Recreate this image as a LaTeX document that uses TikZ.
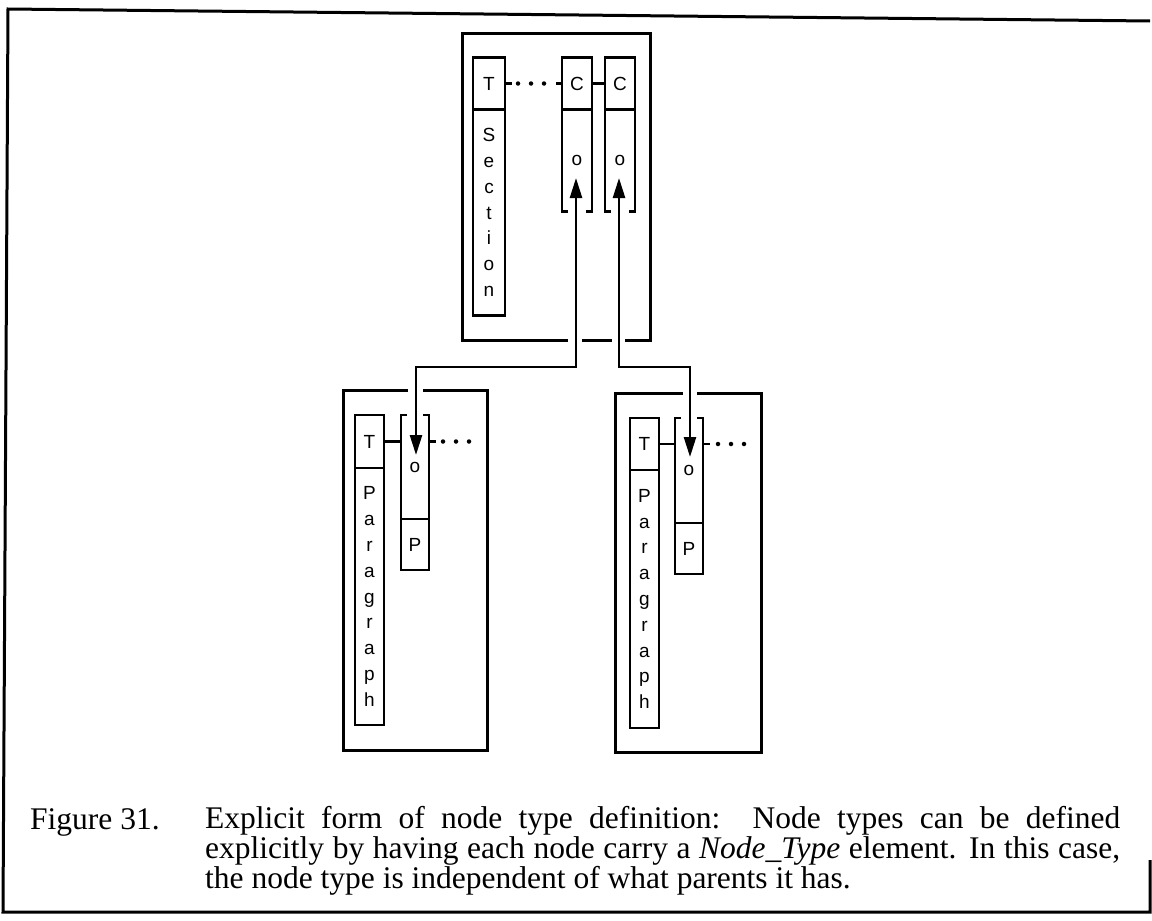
\documentclass[tikz,border=0pt]{standalone}
\usepackage{fontspec}
\setmainfont{Liberation Serif}
\newfontfamily\boxfont{Liberation Sans}
\usetikzlibrary{arrows.meta}

\tikzset{
  wire/.style={line width=2.5pt},
  frame/.style={line width=3pt},
  cell/.style={draw, line width=2.5pt, minimum width=30pt, inner sep=0pt, outer sep=0pt,
    font=\boxfont\fontsize{19}{25.8}\selectfont, align=center},
  body/.style={cell, draw=none},
  link/.style={line width=2.5pt,
    {Triangle[length=20pt,width=12pt]}-{Triangle[length=20pt,width=12pt]}},
  dots/.style={line width=4.5pt, line cap=round, dash pattern=on 0pt off 13pt},
}

\begin{document}
\begin{tikzpicture}[x=1pt,y=-1pt]
  \useasboundingbox (0,0) rectangle (1152,921);

  % page frame
  \draw[frame] (1150,21) -- (8,9) -- (3,912) -- (1150,912) -- (1150,860);

  % section node
  \draw[frame] (568,340) -| (462,33) -| (650,340) -- (625,340);
  \draw[frame] (582,340) -- (612,340);
  \node[cell, minimum width=32pt, minimum height=52pt] (secT) at (489,83.5) {T};
  \node[cell, minimum width=32pt, minimum height=206pt, anchor=north] (secName) at (secT.south) {S\\e\\c\\t\\i\\o\\n};
  \node[cell, minimum height=52pt] (c1T) at (577,83.5) {C};
  \node[body, minimum height=102pt, anchor=north] (c1B) at (c1T.south) {o};
  \node[cell, minimum height=52pt] (c2T) at (620,83.5) {C};
  \node[body, minimum height=102pt, anchor=north] (c2B) at (c2T.south) {o};
  \draw[wire] ([xshift=6pt]c1B.south west) -| (c1B.north west);
  \draw[wire] ([xshift=-6pt]c1B.south east) -| (c1B.north east);
  \draw[wire] ([xshift=6pt]c2B.south west) -| (c2B.north west);
  \draw[wire] ([xshift=-6pt]c2B.south east) -| (c2B.north east);

  \draw[wire] (secT.east) -- ++(7,0);
  \draw[dots] ([xshift=13pt]secT.east) -- ([xshift=-13pt]c1T.west);
  \draw[wire] (c1T.west) -- ++(-6,0);
  \draw[wire] (c1T.east) -- (c2T.west);

  \coordinate (upL) at (576,178);
  \coordinate (upR) at (619,178);
  \coordinate (bus) at (0,367);

  % left paragraph node
  \draw[frame] (408,390) -| (343,750) -| (487,390) -- (423,390);
  \node[cell, minimum width=29pt, minimum height=53pt] (parLT) at (369.5,441.5) {T};
  \node[cell, minimum width=29pt, minimum height=257pt, anchor=north] (parLName) at (parLT.south) {P\\a\\r\\a\\g\\r\\a\\p\\h};
  \node[body, minimum width=28pt, minimum height=104pt] (oL) at (415,467) {o};
  \node[cell, minimum width=28pt, minimum height=51pt, anchor=north] (pL) at (oL.south) {P};
  \draw[wire] ([xshift=6pt]oL.north west) -| (oL.south west);
  \draw[wire] ([xshift=-6pt]oL.north east) -| (oL.south east);
  \coordinate (tickL) at (parLT.east -| oL.east);
  \draw[wire] (parLT.east) -- (parLT.east -| oL.west);
  \draw[wire] (tickL) -- ++(7,0);
  \draw[dots] ([xshift=14pt]tickL) -- ++(30,0);
  \coordinate (downL) at (416,455);

  % right paragraph node
  \draw[frame] (683,393) -| (615,752) -| (761,393) -- (697,393);
  \node[cell, minimum width=29pt, minimum height=52pt] (parRT) at (644.5,444) {T};
  \node[cell, minimum width=29pt, minimum height=258pt, anchor=north] (parRName) at (parRT.south) {P\\a\\r\\a\\g\\r\\a\\p\\h};
  \node[body, minimum width=28pt, minimum height=105pt] (oR) at (689,470.5) {o};
  \node[cell, minimum width=28pt, minimum height=51pt, anchor=north] (pR) at (oR.south) {P};
  \draw[wire] ([xshift=6pt]oR.north west) -| (oR.south west);
  \draw[wire] ([xshift=-6pt]oR.north east) -| (oR.south east);
  \coordinate (tickR) at (parRT.east -| oR.east);
  \draw[wire] (parRT.east) -- (parRT.east -| oR.west);
  \draw[wire] (tickR) -- ++(7,0);
  \draw[dots] ([xshift=15pt]tickR) -- ++(30,0);
  \coordinate (downR) at (690,457);

  % child pointers
  \draw[link] (downL) -- (downL |- bus) -| (upL);
  \draw[link] (downR) -- (downR |- bus) -| (upR);

  % caption
  \node[anchor=base west, inner sep=0pt, font=\fontsize{31.5}{30}\selectfont] (figNo) at (30,829) {Figure 31.};
  \node[anchor=north west, inner sep=0pt, text width=915pt, align=justify,
    font=\fontsize{31.5}{30}\selectfont] (caption) at (205,806)
    {Explicit form of node type definition:\ \ Node types can be defined\linebreak
     explicitly by having each node carry a \textit{Node\_Type} element. In this case,\linebreak
     the node type is independent of what parents it has.};
\end{tikzpicture}
\end{document}
